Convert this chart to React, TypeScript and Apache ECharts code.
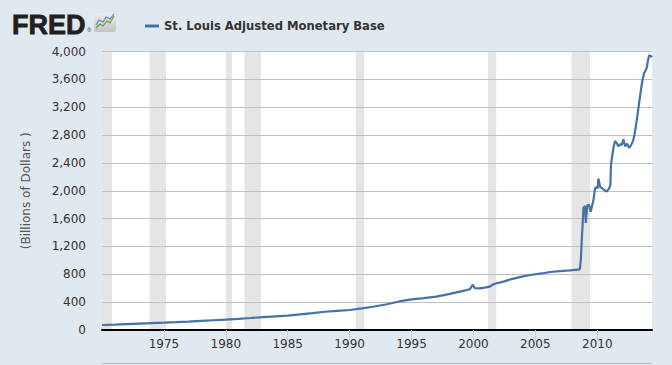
import React, { useEffect, useRef } from "react";
import * as echarts from "echarts";

const seriesName = "St. Louis Adjusted Monetary Base";

// decimal years and values (billions of dollars)
const years: number[] = [
  1970.0, 1971.0, 1972.0, 1973.0, 1974.0, 1975.0, 1976.0, 1977.0, 1978.0, 1979.0,
  1980.0, 1981.0, 1982.0, 1983.0, 1984.0, 1985.0, 1986.0, 1987.0, 1988.0, 1989.0,
  1990.0, 1991.0, 1992.0, 1993.0, 1994.0, 1995.0, 1996.0, 1997.0, 1998.0, 1999.0,
  1999.7, 1999.95, 2000.1, 2000.5, 2001.0, 2001.3, 2001.6, 2001.8, 2002.5, 2003.0,
  2004.0, 2004.6, 2005.5, 2006.2, 2007.0, 2007.8, 2008.59, 2008.67, 2008.75, 2008.83,
  2008.88, 2009.01, 2009.07, 2009.2, 2009.34, 2009.47, 2009.69, 2009.82, 2009.96, 2010.03,
  2010.09, 2010.23, 2010.49, 2010.75, 2010.95, 2011.06, 2011.11, 2011.22, 2011.32, 2011.44,
  2011.58, 2011.71, 2011.85, 2011.98, 2012.11, 2012.25, 2012.41, 2012.57, 2012.73, 2012.89,
  2013.0, 2013.18, 2013.32, 2013.48, 2013.64, 2013.78, 2013.92, 2014.0, 2014.1, 2014.21,
  2014.35, 2014.42,
];
const values: number[] = [
  72, 78, 85, 92, 99, 105, 112, 120, 130, 140,
  150, 160, 172, 186, 197, 207, 225, 243, 262, 275,
  287, 310, 338, 370, 410, 440, 458, 480, 515, 555,
  585, 651, 602, 598, 612, 622, 655, 668, 698, 728,
  770, 790, 812, 833, 845, 857, 871, 1000, 1300, 1560,
  1752, 1780, 1537, 1790, 1800, 1700, 1867, 2040, 2050, 2035,
  2175, 2058, 2020, 1987, 2030, 2083, 2380, 2513, 2633, 2715,
  2681, 2640, 2670, 2657, 2739, 2640, 2675, 2615, 2655, 2715,
  2801, 3000, 3184, 3390, 3580, 3690, 3734, 3770, 3880, 3950,
  3926, 3940,
];

// recession periods [start, end] in decimal years
const recessions: [number, number][] = [
  [1970.0, 1970.8],
  [1973.83, 1975.17],
  [1980.0, 1980.5],
  [1981.5, 1982.83],
  [1990.5, 1991.17],
  [2001.17, 2001.83],
  [2007.92, 2009.42],
];

const xTicks: number[] = [1975, 1980, 1985, 1990, 1995, 2000, 2005, 2010];
const yMax = 4000;
const yStep = 400;
const xMin = 1970;
const xMax = 2014.42;

const FONT = "DejaVu Sans";

function fmt(v: number): string {
  return String(v).replace(/\B(?=(\d{3})+(?!\d))/g, ",");
}

export default function App() {
  const ref = useRef<HTMLDivElement>(null);

  useEffect(() => {
    if (!ref.current) return;
    const chart = echarts.init(ref.current, undefined, { renderer: "svg" });
    const data = years.map((y, i) => [y, values[i]]);

    chart.setOption({
      animation: false,
      backgroundColor: "#e1e9f0",
      textStyle: { fontFamily: FONT },
      legend: {
        data: [seriesName],
        left: 140,
        top: 15,
        icon: "rect",
        itemWidth: 14,
        itemHeight: 3,
        textStyle: { fontFamily: FONT, fontSize: 11.6, fontWeight: "bold", color: "#333" },
      },
      grid: {
        left: 102,
        right: 20,
        top: 51.5,
        bottom: 35,
        show: true,
        backgroundColor: "#ffffff",
        borderWidth: 0,
      },
      xAxis: {
        type: "value",
        min: xMin,
        max: xMax,
        interval: 5,
        z: 4,
        splitLine: { show: false },
        axisLine: { show: true, onZero: false, lineStyle: { color: "#000", width: 2 } },
        axisTick: { show: true, length: 10, customValues: xTicks, lineStyle: { color: "#c0d0e0" } },
        axisLabel: {
          customValues: xTicks,
          fontFamily: FONT,
          fontSize: 12,
          color: "#333",
          margin: 8,
          formatter: (v: number) => String(v),
        },
      },
      yAxis: {
        type: "value",
        min: 0,
        max: yMax,
        interval: yStep,
        z: 2,
        name: "(Billions of Dollars )",
        nameLocation: "middle",
        nameGap: 70,
        nameTextStyle: { fontFamily: FONT, fontSize: 12, color: "#555" },
        axisLine: { show: false },
        axisTick: { show: false },
        splitLine: { show: true, lineStyle: { color: "#c0c0c0", width: 1 } },
        axisLabel: {
          fontFamily: FONT,
          fontSize: 12,
          color: "#333",
          margin: 16,
          formatter: (v: number) => fmt(v),
        },
      },
      series: [
        {
          name: "recessions",
          type: "line",
          z: 1,
          silent: true,
          data: data,
          showSymbol: false,
          lineStyle: { opacity: 0 },
          markArea: {
            silent: true,
            itemStyle: { color: "#e5e5e5" },
            data: recessions.map(([a, b]) => [{ xAxis: a }, { xAxis: b }]),
          },
        },
        {
          name: seriesName,
          type: "line",
          z: 3,
          data: data,
          showSymbol: false,
          color: "#4572a7",
          lineStyle: { color: "#4572a7", width: 2.2 },
        },
      ],
      graphic: [
        {
          type: "text",
          x: 12,
          y: 11,
          scaleX: 1.0,
          style: {
            text: "FRED",
            fontFamily: "Liberation Sans",
            fontSize: 27,
            fontWeight: "bold",
            fill: "#231f20",
            stroke: "#231f20",
            lineWidth: 0.8,
          },
        },
        {
          type: "text",
          left: 87,
          top: 27,
          style: { text: "®", fontFamily: "Liberation Sans", fontSize: 6, fill: "#231f20" },
        },
        {
          type: "rect",
          shape: { x: 94, y: 13, width: 22, height: 19, r: 2 },
          style: {
            fill: new echarts.graphic.LinearGradient(0, 0, 0, 1, [
              { offset: 0, color: "#eeeeee" },
              { offset: 1, color: "#c4c4c4" },
            ]),
          },
        },
        {
          type: "polyline",
          shape: { points: [[96, 28], [100, 24], [103, 26], [107, 21], [110, 23], [114, 16]] },
          style: { stroke: "#6a9a3a", lineWidth: 1.2, fill: "none" },
        },
        {
          type: "polyline",
          shape: { points: [[96, 25], [99, 20], [103, 22], [106, 17], [110, 19], [114, 14]] },
          style: { stroke: "#5a8abf", lineWidth: 1.2, fill: "none" },
        },
        {
          type: "line",
          shape: { x1: 102, y1: 363.5, x2: 652, y2: 363.5 },
          style: { stroke: "#b4bfca", lineWidth: 1 },
        },
      ],
    });

    return () => chart.dispose();
  }, []);

  return (
    <div
      ref={ref}
      style={{ position: "fixed", left: 0, top: 0, width: 672, height: 365 }}
    />
  );
}
